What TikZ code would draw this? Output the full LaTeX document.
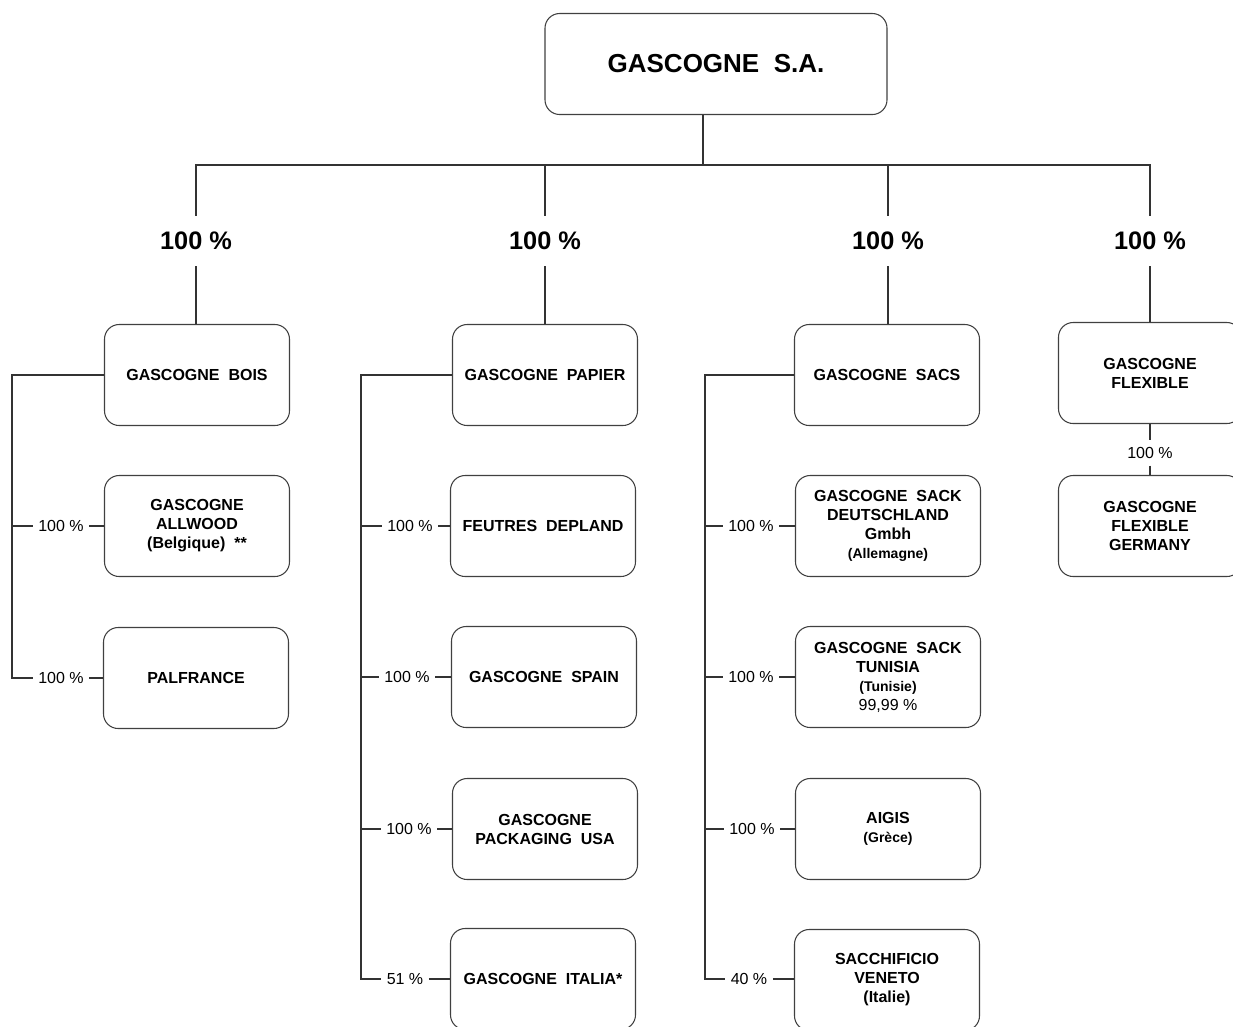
\documentclass[tikz,border=0pt]{standalone}
\usepackage{fontspec}
\setmainfont{Liberation Sans}
\usetikzlibrary{shapes}

\begin{document}
\begin{tikzpicture}[x=.75pt,y=-.75pt]
\tikzset{firm/.style = {shape=rectangle,draw=black!75,line width=.8pt,rounded corners=11pt,minimum width=138.75pt,minimum height=75.75pt,align=center,font=\fontsize{12}{14.25}\selectfont\bfseries}}
\tikzset{share/.style = {inner xsep=4pt,inner ysep=5pt,font=\fontsize{12}{14}\selectfont}}
\tikzset{bigshare/.style = {inner xsep=4pt,inner ysep=12pt,font=\fontsize{19}{22}\selectfont\bfseries}}
\tikzset{link/.style = {draw=black!80,line width=.8pt}}
\newcommand{\sub}[1]{{\fontsize{10.5}{13}\selectfont #1}}

\useasboundingbox (0,0) rectangle (1233,1026);
\clip (0,0) rectangle (1233,1026);

\node[firm,minimum width=256.5pt,font=\fontsize{19.5}{22}\selectfont\bfseries] (gsa) at (716,64) {GASCOGNE~~S.A.};

\node[bigshare] (pbois) at (196,241) {100 \%};
\node[bigshare] (ppapier) at (545,241) {100 \%};
\node[bigshare] (psacs) at (888,241) {100 \%};
\node[bigshare] (pflex) at (1150,241) {100 \%};

\node[firm] (bois) at (197,375) {GASCOGNE~~BOIS};
\node[firm] (allwood) at (197,526) {GASCOGNE\\ALLWOOD\\(Belgique)~~**};
\node[firm] (palfrance) at (196,678) {PALFRANCE};

\node[firm] (papier) at (545,375) {GASCOGNE~~PAPIER};
\node[firm] (depland) at (543,526) {FEUTRES~~DEPLAND};
\node[firm] (spain) at (544,677) {GASCOGNE~~SPAIN};
\node[firm] (usa) at (545,829) {GASCOGNE\\PACKAGING~~USA};
\node[firm] (italia) at (543,979) {GASCOGNE~~ITALIA*};

\node[firm] (sacs) at (887,375) {GASCOGNE~~SACS};
\node[firm] (deutsch) at (888,526) {GASCOGNE~~SACK\\DEUTSCHLAND\\Gmbh\\\sub{(Allemagne)}};
\node[firm] (tunisia) at (888,677) {GASCOGNE~~SACK\\TUNISIA\\\sub{(Tunisie)}\\\mdseries 99,99 \%};
\node[firm] (aigis) at (888,829) {AIGIS\\\sub{(Grèce)}};
\node[firm] (veneto) at (887,980) {SACCHIFICIO\\VENETO\\(Italie)};

\node[firm,minimum width=137.25pt] (flex) at (1150,373) {GASCOGNE\\FLEXIBLE};
\node[firm,minimum width=137.25pt] (flexger) at (1150,526) {GASCOGNE\\FLEXIBLE\\GERMANY};

\node[share] (pallwood) at (61,526) {100 \%};
\node[share] (ppalfrance) at (61,678) {100 \%};
\node[share] (pdepland) at (410,526) {100 \%};
\node[share] (pspain) at (407,677) {100 \%};
\node[share] (pusa) at (409,829) {100 \%};
\node[share] (pitalia) at (405,979) {51 \%};
\node[share] (pdeutsch) at (751,526) {100 \%};
\node[share] (ptunisia) at (751,677) {100 \%};
\node[share] (paigis) at (752,829) {100 \%};
\node[share] (pveneto) at (749,979) {40 \%};
\node[share] (pflexger) at (1150,453) {100 \%};

\coordinate (bus) at (703,165);
\coordinate (t1) at (12,678);
\coordinate (t2) at (361,979);
\coordinate (t3) at (705,979);

%edges
\draw[link] (gsa.south -| bus) -- (bus);
\draw[link] (pbois.north) |- (bus) -| (pflex.north);
\draw[link] (ppapier.north) -- (ppapier.north |- bus);
\draw[link] (psacs.north) -- (psacs.north |- bus);
\draw[link] (pbois.south) -- (pbois.south |- bois.north);
\draw[link] (ppapier.south) -- (papier.north);
\draw[link] (psacs.south) -- (psacs.south |- sacs.north);
\draw[link] (pflex.south) -- (flex.north);

\draw[link] (bois.west) -| (t1) -- (ppalfrance.west);
\draw[link] (pallwood.west) -- (pallwood.west -| t1);
\draw[link] (pallwood.east) -- (allwood.west);
\draw[link] (ppalfrance.east) -- (palfrance.west);

\draw[link] (papier.west) -| (t2) -- (pitalia.west);
\draw[link] (pdepland.west) -- (pdepland.west -| t2);
\draw[link] (pspain.west) -- (pspain.west -| t2);
\draw[link] (pusa.west) -- (pusa.west -| t2);
\draw[link] (pdepland.east) -- (depland.west);
\draw[link] (pspain.east) -- (spain.west);
\draw[link] (pusa.east) -- (usa.west);
\draw[link] (pitalia.east) -- (pitalia.east -| italia.west);

\draw[link] (sacs.west) -| (t3) -- (pveneto.west);
\draw[link] (pdeutsch.west) -- (pdeutsch.west -| t3);
\draw[link] (ptunisia.west) -- (ptunisia.west -| t3);
\draw[link] (paigis.west) -- (paigis.west -| t3);
\draw[link] (pdeutsch.east) -- (deutsch.west);
\draw[link] (ptunisia.east) -- (tunisia.west);
\draw[link] (paigis.east) -- (aigis.west);
\draw[link] (pveneto.east) -- (pveneto.east -| veneto.west);

\draw[link] (flex.south) -- (pflexger.north);
\draw[link] (pflexger.south) -- (flexger.north);

\end{tikzpicture}
\end{document}
